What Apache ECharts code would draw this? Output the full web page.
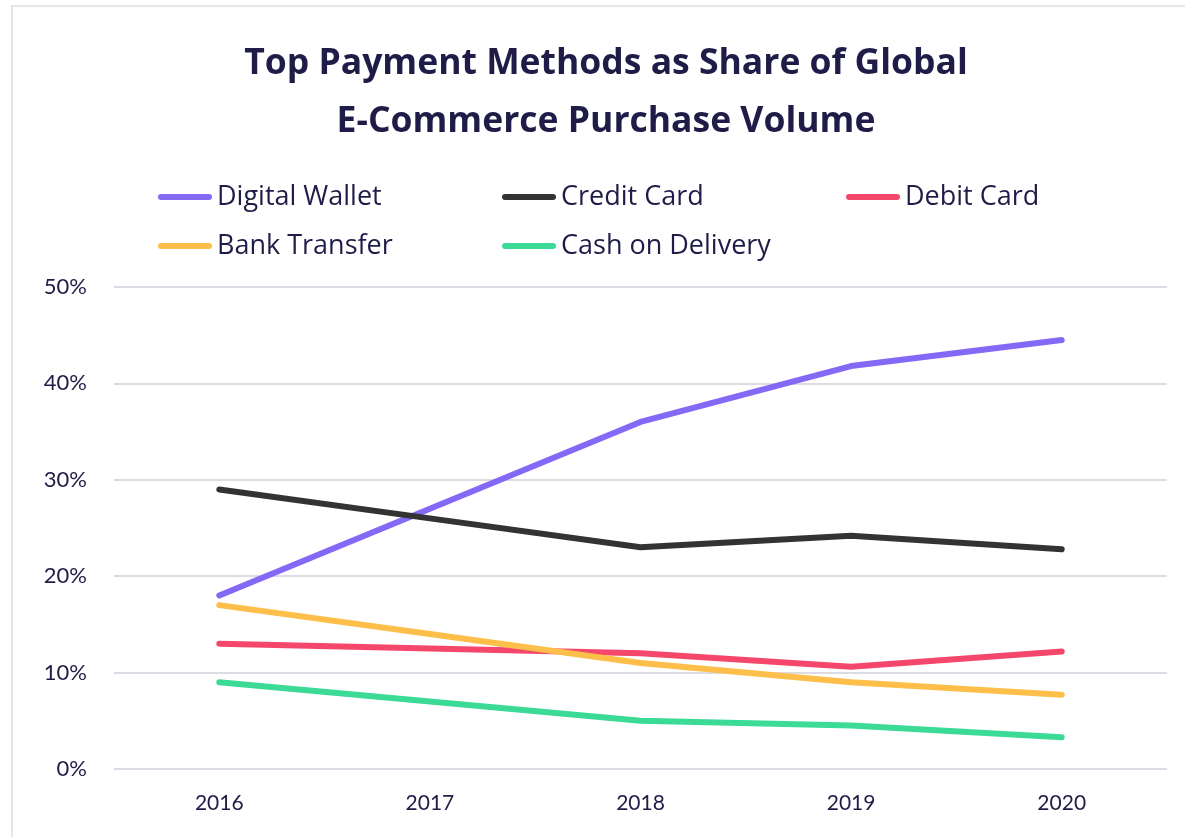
<!DOCTYPE html>
<html>
<head>
<meta charset="utf-8">
<script src="https://cdn.jsdelivr.net/npm/echarts@6/dist/echarts.min.js"></script>
<style>
html,body{margin:0;padding:0;background:#fff;}
#card{position:absolute;left:11px;top:5px;width:1200px;height:900px;border-left:2px solid #e6e6e6;border-top:2px solid #e6e6e6;box-sizing:border-box;}
#chart{position:absolute;left:0;top:0;width:1185px;height:837px;}
</style>
</head>
<body>
<div id="card"></div>
<div id="chart"></div>
<script>
const years = ['2016', '2017', '2018', '2019', '2020'];
const digitalWallet = [18, 27, 36, 41.8, 44.5];
const creditCard = [29, 26, 23, 24.2, 22.8];
const debitCard = [13, 12.5, 12, 10.6, 12.2];
const bankTransfer = [17, 14, 11, 9, 7.7];
const cashOnDelivery = [9, 7, 5, 4.5, 3.3];
const seriesNames = ['Digital Wallet', 'Credit Card', 'Debit Card', 'Bank Transfer', 'Cash on Delivery'];
const seriesData = [digitalWallet, creditCard, debitCard, bankTransfer, cashOnDelivery];
const colors = ['#8468f6', '#333333', '#f5476c', '#fdbe4a', '#3bda96'];

const textColor = '#1f1d47';
const font = 'Lato, "Open Sans", sans-serif';
const wideFont = '"Open Sans", Lato, sans-serif';
const legendPos = [[158, 181], [502, 181], [846, 181], [158, 230], [502, 230]];
const capsule = 'path://M3,0 L51,0 A3,3 0 0 1 51,6 L3,6 A3,3 0 0 1 3,0 Z';

const chart = echarts.init(document.getElementById('chart'));
chart.setOption({
  animation: false,
  color: colors,
  title: {
    text: 'Top Payment Methods as Share of Global\nE-Commerce Purchase Volume',
    left: 606,
    top: 35,
    padding: 0,
    textAlign: 'center',
    textStyle: { fontFamily: wideFont, fontWeight: 'bold', fontSize: 35.5, lineHeight: 58, color: textColor }
  },
  legend: seriesNames.map((n, i) => ({
    data: [n],
    left: legendPos[i][0],
    top: legendPos[i][1],
    padding: 0,
    itemWidth: 54,
    itemHeight: 6,
    icon: capsule,
    textStyle: { fontFamily: wideFont, fontSize: 27, lineHeight: 32, color: textColor }
  })),
  grid: { left: 114, right: 18, top: 287, bottom: 68 },
  xAxis: {
    type: 'category',
    data: years,
    boundaryGap: true,
    axisLine: { show: false },
    axisTick: { show: false },
    axisLabel: { fontFamily: font, fontSize: 21, color: textColor, margin: 24 }
  },
  yAxis: {
    type: 'value',
    min: 0, max: 50, interval: 10,
    axisLabel: { formatter: '{value}%', fontFamily: font, fontSize: 22, color: textColor, margin: 27 },
    splitLine: { lineStyle: { color: '#dcdde4', width: 2 } },
    axisLine: { show: false },
    axisTick: { show: false }
  },
  series: seriesNames.map((n, i) => ({
    name: n,
    type: 'line',
    data: seriesData[i],
    symbol: 'none',
    lineStyle: { width: 6, cap: 'round', join: 'round', color: colors[i] },
    itemStyle: { color: colors[i] }
  }))
});
</script>
</body>
</html>
